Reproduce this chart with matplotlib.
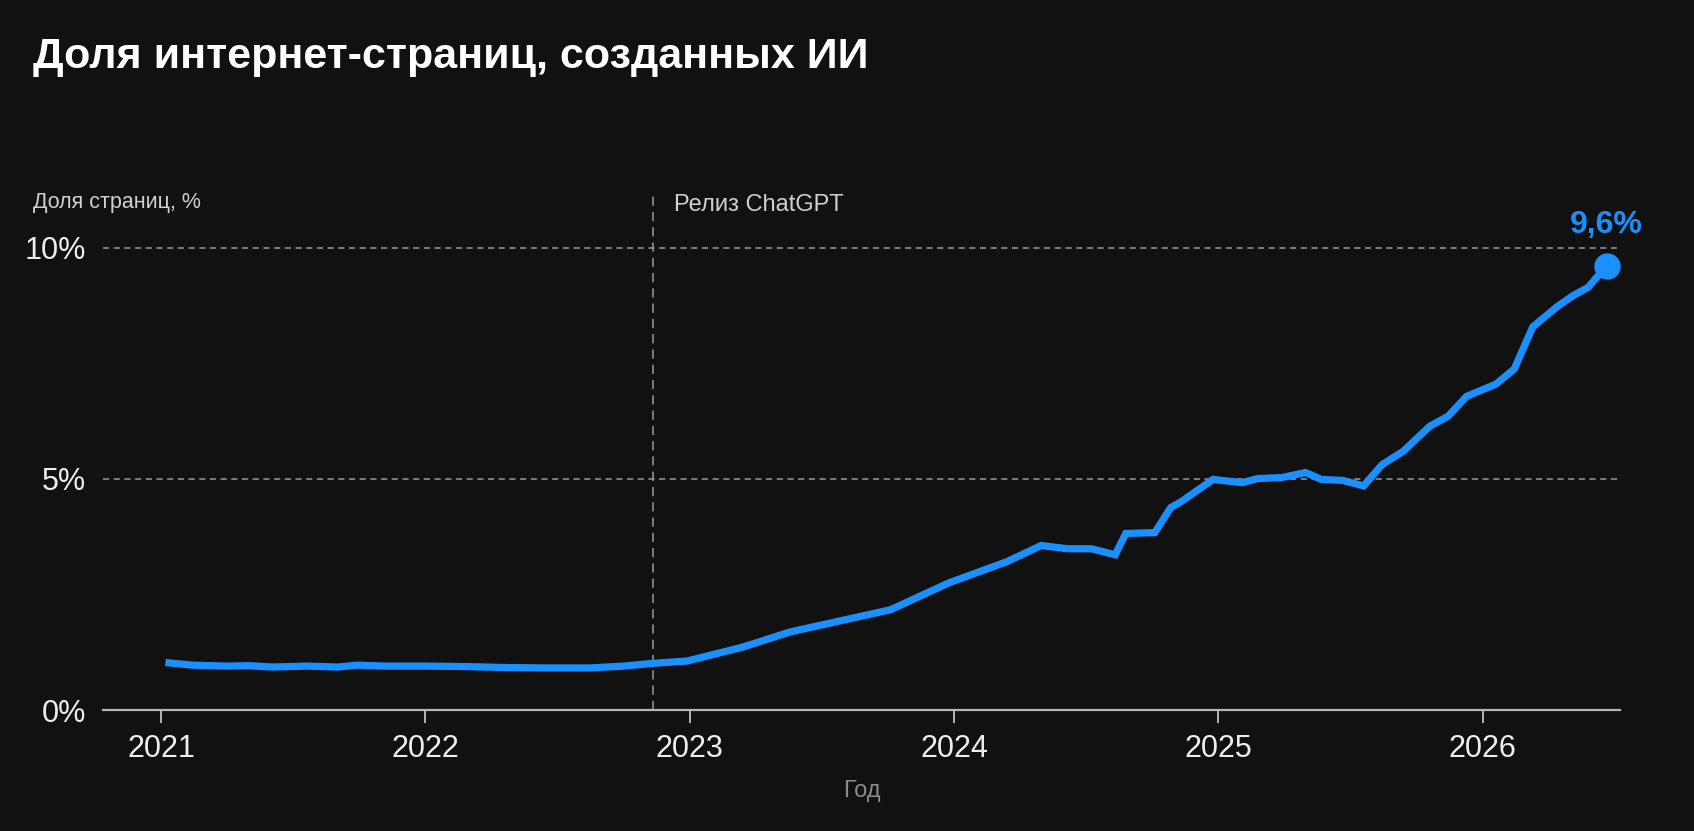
import numpy as np
import matplotlib
matplotlib.use("Agg")
import matplotlib.pyplot as plt

# data (decimal year, share of pages in %)
years = [2021.03, 2021.12, 2021.25, 2021.33, 2021.42, 2021.55, 2021.67, 2021.74,
         2021.85, 2022.00, 2022.15, 2022.30, 2022.45, 2022.62, 2022.75, 2022.86,
         2022.99, 2023.20, 2023.38, 2023.57, 2023.76, 2023.98, 2024.20, 2024.33,
         2024.43, 2024.52, 2024.61, 2024.65, 2024.76, 2024.82, 2024.86, 2024.98,
         2025.09, 2025.15, 2025.24, 2025.33, 2025.39, 2025.47, 2025.55, 2025.62,
         2025.70, 2025.80, 2025.87, 2025.94, 2026.05, 2026.12, 2026.19, 2026.28,
         2026.34, 2026.40, 2026.47]
share = [1.02, 0.97, 0.95, 0.96, 0.93, 0.95, 0.93, 0.97,
         0.95, 0.95, 0.94, 0.92, 0.91, 0.91, 0.95, 1.01,
         1.06, 1.36, 1.69, 1.93, 2.17, 2.75, 3.21, 3.56,
         3.49, 3.49, 3.36, 3.82, 3.84, 4.38, 4.51, 4.99,
         4.92, 5.01, 5.03, 5.14, 4.99, 4.97, 4.85, 5.31,
         5.60, 6.14, 6.36, 6.79, 7.05, 7.38, 8.29, 8.72,
         8.96, 9.15, 9.62]
year_ticks = [2021, 2022, 2023, 2024, 2025, 2026]
y_ticks = [0, 5, 10]
y_tick_labels = ["0%", "5%", "10%"]
chatgpt_release = 2022.86
last_label = "9,6%"

bg = "#111111"
blue = "#1a90ff"
plt.rcParams['font.family'] = ["Liberation Sans", "DejaVu Sans"]

fig = plt.figure(figsize=(16.94, 8.31), dpi=100, facecolor=bg)
ax = fig.add_axes([0.0608, 0.1456, 0.8955, 0.6116])
ax.set_facecolor(bg)

ax.plot(years, share, color=blue, linewidth=5.2, solid_joinstyle="miter", zorder=3)
ax.plot(years[-1], share[-1], "o", color=blue, markersize=18, zorder=4)
ax.text(years[-1], share[-1] + 0.55, last_label, color=blue, fontsize=23,
        fontweight="bold", ha="center", va="bottom")

# gridlines at 5 and 10
for yv in [5, 10]:
    ax.axhline(yv, color="#9a9a9a", linewidth=1.1, linestyle=(0, (4, 3)), zorder=1)

ax.axvline(chatgpt_release, ymin=0, ymax=1.015, color="#9a9a9a", linewidth=1.1,
           linestyle=(0, (6, 4)), zorder=1, clip_on=False)
ax.text(chatgpt_release + 0.08, 10.7, "Релиз ChatGPT", color="#cfcfcf", fontsize=17,
        ha="left", va="bottom")

ax.set_xlim(2020.78, 2026.52)
ax.set_ylim(0, 11)
for s in ["top", "right", "left"]:
    ax.spines[s].set_visible(False)
ax.spines["bottom"].set_color("#b5b5b5")
ax.spines["bottom"].set_linewidth(1.6)

ax.set_xticks(year_ticks)
ax.set_xticklabels([str(y) for y in year_ticks])
ax.set_yticks(y_ticks)
ax.set_yticklabels(y_tick_labels)
ax.tick_params(axis="x", colors="#b5b5b5", labelcolor="#eeeeee", labelsize=22,
               length=9, width=1.4, pad=8)
ax.tick_params(axis="y", length=0, labelcolor="#eeeeee", labelsize=22, pad=12)

ax.set_xlabel("Год", color="#8a8a8a", fontsize=17, labelpad=12)

fig.text(0.0195, 0.918, "Доля интернет-страниц, созданных ИИ", color="white",
         fontsize=31, fontweight="bold", ha="left", va="baseline")
fig.text(0.0195, 0.750, "Доля страниц, %", color="#d0d0d0", fontsize=15.5,
         ha="left", va="baseline")

fig.savefig("out.png", dpi=100, facecolor=bg)
